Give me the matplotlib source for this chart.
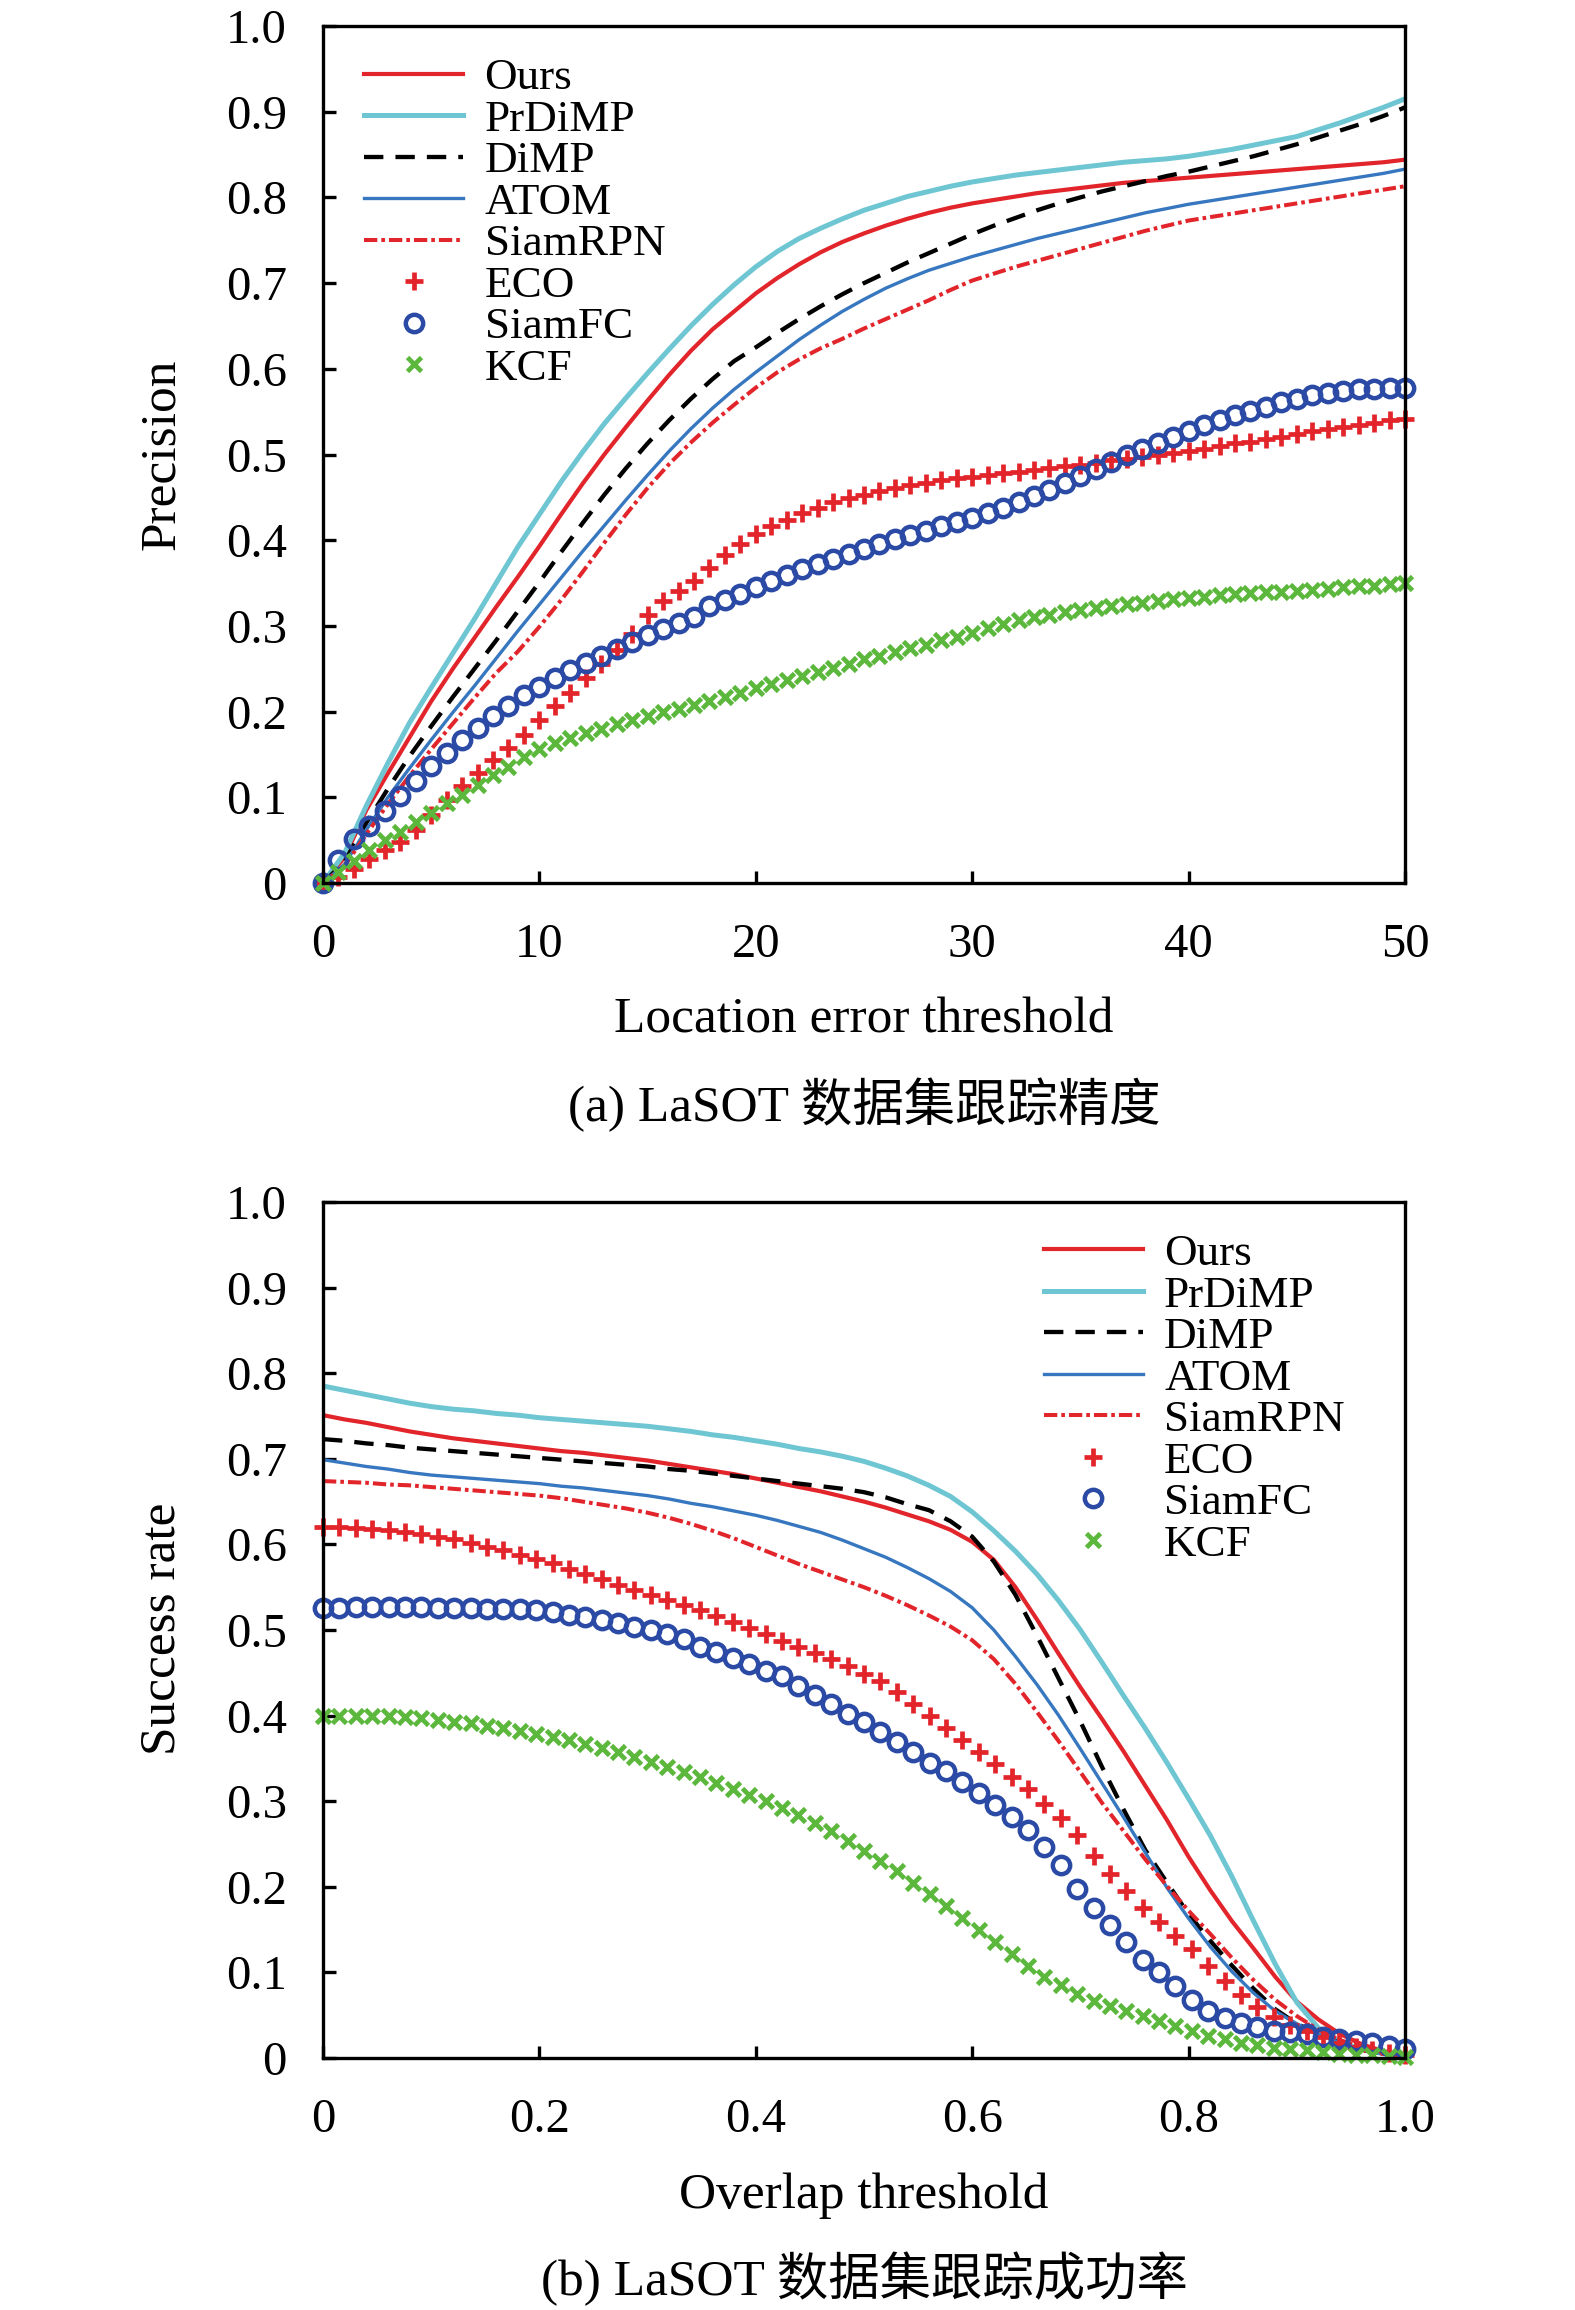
import numpy as np
import matplotlib
matplotlib.use("Agg")
from matplotlib import pyplot as plt

plt.rcParams['font.family'] = ['Liberation Serif', 'Noto Sans CJK SC']

# ---------------- (a) precision plot data ----------------
prec_x = np.arange(0, 51)
prec_mx = np.linspace(0, 50, 71)

prec_ours = [0, .03, .085, .128, .17, .212, .25, .286, .322, .357, .393, .43, .466, .5, .532,
             .563, .593, .621, .646, .667, .688, .706, .722, .736, .748, .758, .767, .775, .782,
             .788, .793, .797, .801, .805, .808, .811, .814, .817, .819, .821, .823, .825, .827,
             .829, .831, .833, .835, .837, .839, .841, .844]
prec_prdimp = [0, .035, .09, .14, .187, .228, .268, .308, .35, .392, .43, .468, .503, .536, .566,
               .595, .623, .65, .675, .698, .719, .737, .752, .764, .775, .785, .793, .801, .807,
               .813, .818, .822, .826, .829, .832, .835, .838, .841, .843, .845, .848, .852, .856,
               .861, .866, .871, .879, .887, .896, .905, .915]
prec_dimp = [0, .025, .07, .11, .148, .183, .217, .25, .283, .317, .351, .386, .42, .453, .484,
             .513, .54, .565, .588, .609, .625, .642, .658, .673, .687, .70, .712, .724, .735,
             .746, .757, .767, .776, .785, .793, .800, .807, .813, .819, .825, .830, .836, .842,
             .848, .855, .862, .870, .878, .886, .895, .905]
prec_atom = [0, .022, .062, .1, .134, .167, .199, .23, .262, .294, .325, .356, .387, .417, .447,
             .476, .504, .53, .554, .576, .596, .615, .634, .651, .667, .681, .694, .705, .715,
             .723, .731, .738, .745, .752, .758, .764, .770, .776, .782, .787, .792, .796, .800,
             .804, .808, .812, .816, .820, .824, .828, .833]
prec_siamrpn = [0, .02, .057, .092, .125, .156, .186, .216, .245, .27, .299, .33, .363, .397,
                .43, .461, .489, .514, .537, .558, .578, .596, .611, .624, .635, .647, .658, .669,
                .68, .692, .703, .711, .719, .726, .733, .740, .747, .754, .761, .767, .773, .777,
                .781, .785, .789, .793, .797, .801, .805, .809, .813]
prec_eco = [0, .007, .016, .028, .038, .048, .062, .079, .097, .113, .128, .144, .158, .173, .19,
            .206, .222, .239, .255, .272, .29, .313, .329, .341, .352, .367, .383, .396, .407,
            .416, .424, .432, .438, .444, .449, .453, .457, .461, .464, .467, .47, .472, .474,
            .476, .478, .48, .482, .484, .486, .488, .49, .493, .495, .497, .5, .502, .504,
            .507, .51, .513, .515, .518, .521, .524, .527, .53, .532, .535, .537, .54, .542]
prec_siamfc = [0, .027, .051, .066, .084, .102, .119, .136, .152, .167, .181, .195, .207, .219,
               .229, .239, .248, .257, .265, .273, .281, .289, .296, .303, .31, .323, .33, .337,
               .345, .352, .359, .366, .372, .378, .384, .39, .396, .401, .406, .411, .416,
               .421, .426, .432, .438, .444, .452, .459, .467, .475, .483, .491, .499, .506, .513,
               .52, .527, .534, .54, .546, .551, .556, .561, .565, .569, .572, .574, .576, .577,
               .578, .578]
prec_kcf = [0, .013, .026, .038, .05, .06, .071, .082, .093, .103, .114, .126, .135, .147, .156,
            .163, .169, .175, .18, .185, .19, .195, .199, .203, .208, .212, .217, .222, .227,
            .232, .237, .241, .246, .251, .256, .261, .265, .27, .274, .278, .283, .287, .292,
            .297, .302, .307, .31, .313, .316, .319, .321, .323, .325, .327, .329, .331, .333,
            .334, .336, .337, .338, .339, .34, .341, .342, .343, .345, .346, .347, .349, .35]

# ---------------- (b) success plot data ----------------
succ_x = np.linspace(0, 1, 51)
succ_mx = np.linspace(0, 1, 67)

succ_ours = [.751, .746, .742, .737, .732, .728, .724, .721, .718, .715, .712, .709, .707, .704,
             .701, .698, .694, .690, .686, .682, .677, .672, .667, .662, .656, .650, .643, .635,
             .627, .617, .603, .582, .550, .512, .472, .433, .396, .358, .318, .278, .235, .196,
             .160, .128, .095, .066, .045, .028, .016, .008, .003]
succ_prdimp = [.785, .780, .775, .770, .765, .761, .758, .756, .753, .751, .748, .746, .744, .742,
               .740, .738, .735, .732, .728, .725, .721, .717, .712, .708, .703, .697, .689, .680,
               .669, .656, .638, .616, .592, .565, .534, .500, .462, .423, .385, .345, .303, .260,
               .212, .160, .110, .065, .035, .019, .010, .005, .002]
succ_dimp = [.723, .721, .718, .716, .713, .711, .709, .707, .705, .703, .701, .699, .697, .695,
             .693, .691, .688, .686, .683, .680, .677, .674, .671, .668, .665, .661, .655, .647,
             .640, .627, .609, .580, .541, .493, .443, .393, .340, .290, .243, .205, .168, .137,
             .108, .081, .057, .040, .028, .018, .010, .005, .002]
succ_atom = [.699, .695, .691, .688, .684, .681, .679, .677, .675, .673, .671, .668, .666, .663,
             .660, .657, .653, .648, .644, .639, .634, .628, .621, .614, .605, .595, .585, .573,
             .560, .545, .526, .500, .469, .436, .400, .361, .321, .281, .240, .199, .163, .130,
             .101, .076, .055, .040, .028, .018, .010, .005, .002]
succ_siamrpn = [.674, .673, .672, .670, .669, .667, .665, .663, .661, .659, .657, .654, .650, .646,
                .642, .637, .631, .624, .616, .607, .597, .587, .577, .568, .559, .550, .540, .529,
                .517, .504, .488, .466, .437, .404, .370, .334, .298, .265, .232, .201, .172, .145,
                .117, .091, .068, .049, .033, .021, .012, .006, .002]
succ_eco = [.620, .620, .619, .618, .617, .615, .612, .609, .606, .602, .597, .593, .588, .583,
            .578, .571, .565, .559, .553, .547, .541, .535, .529, .523, .516, .509, .502, .495,
            .487, .480, .473, .466, .458, .449, .44, .428, .414, .40, .385, .371, .357, .343,
            .328, .314, .297, .28, .26, .236, .215, .195, .175, .159, .143, .127, .107, .09,
            .074, .06, .048, .039, .031, .024, .018, .013, .009, .006, .004]
succ_siamfc = [.526, .526, .527, .527, .527, .527, .527, .526, .526, .526, .525, .525, .524, .523,
               .521, .518, .515, .512, .508, .504, .500, .495, .490, .480, .474, .467, .46, .452,
               .446, .435, .424, .413, .402, .392, .381, .369, .357, .345, .335, .323, .31, .295,
               .282, .266, .247, .225, .198, .175, .155, .135, .115, .1, .084, .068, .055, .047,
               .041, .036, .032, .03, .028, .025, .022, .02, .017, .014, .01]
succ_kcf = [.399, .400, .400, .400, .399, .398, .397, .395, .393, .391, .388, .385, .382, .379,
            .375, .371, .367, .362, .357, .352, .346, .340, .334, .328, .321, .314, .307, .300,
            .292, .284, .275, .265, .254, .242, .230, .218, .205, .192, .178, .164, .150, .136,
            .121, .107, .095, .085, .075, .067, .061, .055, .049, .043, .037, .031, .026, .022,
            .018, .015, .012, .010, .009, .007, .005, .004, .003, .002, .001]

c_red = '#e2242b'
c_cyan = '#6ec6d3'
c_blue = '#3677c0'
c_dblue = '#2b4aa5'
c_green = '#5cb83c'

FS = 35
LFS = 37
LEG_FS = 32.5

fig = plt.figure(figsize=(15.75, 23.1), dpi=100)
ax1 = fig.add_axes([323 / 1575, 1 - 883 / 2310, 1082 / 1575, 857 / 2310])
ax2 = fig.add_axes([323 / 1575, 1 - 2058 / 2310, 1082 / 1575, 856 / 2310])


def draw(ax, x, mx, ours, prdimp, dimp, atom, siamrpn, eco, siamfc, kcf):
    ax.plot(x, ours, color=c_red, lw=3.0, label='Ours')
    ax.plot(x, prdimp, color=c_cyan, lw=3.6, label='PrDiMP')
    ax.plot(x, dimp, color='black', lw=3.1, dashes=(4.5, 2.8), label='DiMP')
    ax.plot(x, atom, color=c_blue, lw=2.4, label='ATOM')
    ax.plot(x, siamrpn, color=c_red, lw=2.9, dashes=(3.3, 1.0, 0.9, 1.0), label='SiamRPN')
    ax.plot(mx, eco, ls='none', marker='+', ms=13, mew=3.4, color=c_red,
            label='ECO', clip_on=False)
    ax.plot(mx, siamfc, ls='none', marker='o', ms=12.5, mew=3.2, mfc='none', mec=c_dblue,
            label='SiamFC', clip_on=False)
    ax.plot(mx, kcf, ls='none', marker='x', ms=10.5, mew=3.4, color=c_green,
            label='KCF', clip_on=False)


draw(ax1, prec_x, prec_mx, prec_ours, prec_prdimp, prec_dimp, prec_atom, prec_siamrpn,
     prec_eco, prec_siamfc, prec_kcf)
draw(ax2, succ_x, succ_mx, succ_ours, succ_prdimp, succ_dimp, succ_atom, succ_siamrpn,
     succ_eco, succ_siamfc, succ_kcf)

yticks = np.round(np.arange(0, 1.01, 0.1), 1)
ylabels = ['0'] + ['%.1f' % v for v in yticks[1:]]

ax1.set_xlim(0, 50)
ax1.set_xticks([0, 10, 20, 30, 40, 50])
ax1.set_xticklabels(['0', '10', '20', '30', '40', '50'])
ax2.set_xlim(0, 1)
ax2.set_xticks([0, 0.2, 0.4, 0.6, 0.8, 1.0])
ax2.set_xticklabels(['0', '0.2', '0.4', '0.6', '0.8', '1.0'])

for ax in (ax1, ax2):
    ax.set_ylim(0, 1)
    ax.set_yticks(yticks)
    ax.set_yticklabels(ylabels)
    ax.tick_params(direction='in', length=9, width=2.4, labelsize=FS)
    ax.tick_params(axis='x', pad=29)
    ax.tick_params(axis='y', pad=26)
    for s in ax.spines.values():
        s.set_linewidth(2.4)

leg_kw = dict(frameon=False, fontsize=LEG_FS, handlelength=2.2, handletextpad=0.47,
              labelspacing=0.02, borderpad=0, borderaxespad=0, numpoints=1)
ax1.legend(loc='upper left', bbox_to_anchor=(41 / 1082, 0.963), **leg_kw)
ax2.legend(loc='upper left', bbox_to_anchor=(0.666, 0.963), **leg_kw)

cx = 864 / 1575
fig.text(cx, 1 - 1020 / 2310, 'Location error threshold', ha='center', va='center', fontsize=LFS)
fig.text(cx, 1 - 1105 / 2310, '(a) LaSOT 数据集跟踪精度', ha='center', va='center', fontsize=LFS)
fig.text(cx, 1 - 2196 / 2310, 'Overlap threshold', ha='center', va='center', fontsize=LFS)
fig.text(cx, 1 - 2279 / 2310, '(b) LaSOT 数据集跟踪成功率', ha='center', va='center', fontsize=LFS)
fig.text(162 / 1575, 1 - 454 / 2310, 'Precision', rotation=90, ha='center', va='center',
         fontsize=LFS)
fig.text(162 / 1575, 1 - 1629 / 2310, 'Success rate', rotation=90, ha='center', va='center',
         fontsize=LFS)

fig.savefig('out.png', dpi=100)
